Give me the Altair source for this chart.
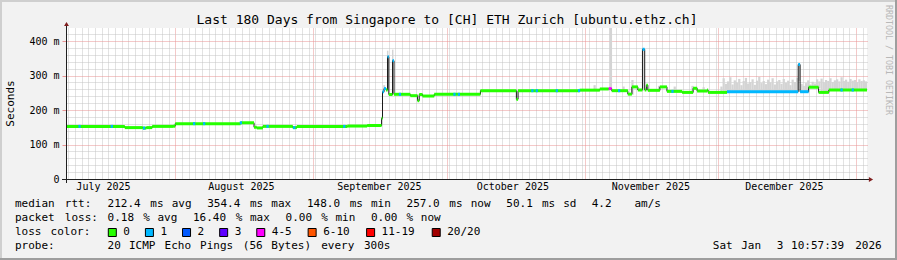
import re
import altair as alt
import numpy as np
import pandas as pd

# ---------------- data ----------------
START = pd.Timestamp("2025-07-07 10:57:39")
SPAN_DAYS = 180.0
TITLE = "Last 180 Days from Singapore to [CH] ETH Zurich [ubuntu.ethz.ch]"

median_time = [
    "2025-07-07 10:57", "2025-07-20 16:00", "2025-07-24 17:00", "2025-07-25 12:00",
    "2025-07-26 20:00", "2025-07-31 12:00", "2025-08-01 00:00", "2025-08-15 17:00",
    "2025-08-18 17:00", "2025-08-19 08:00", "2025-08-20 17:00", "2025-08-27 10:00",
    "2025-08-28 08:00", "2025-09-08 17:00", "2025-09-13 03:00", "2025-09-16 09:00",
    "2025-09-16 14:00", "2025-09-16 22:00", "2025-09-17 09:00", "2025-09-17 17:00",
    "2025-09-18 00:00", "2025-09-18 20:00", "2025-09-19 04:00", "2025-09-22 20:00",
    "2025-09-24 11:00", "2025-09-24 20:00", "2025-09-25 14:00", "2025-09-28 05:00",
    "2025-10-08 14:00", "2025-10-16 16:00", "2025-10-17 01:00", "2025-10-30 21:00",
    "2025-11-04 10:00", "2025-11-06 10:00", "2025-11-07 02:00", "2025-11-10 17:00",
    "2025-11-11 15:00", "2025-11-12 23:00", "2025-11-14 00:00", "2025-11-14 12:00",
    "2025-11-14 21:00", "2025-11-15 05:00", "2025-11-17 22:00", "2025-11-19 12:00",
    "2025-11-22 22:00", "2025-11-25 09:00", "2025-11-26 07:00", "2025-11-28 13:00",
    "2025-11-28 18:00", "2025-12-03 00:00", "2025-12-19 00:00", "2025-12-19 10:00",
    "2025-12-21 08:00", "2025-12-23 14:00", "2025-12-25 21:00",
]
median_ms = [
    152.5, 149.0, 147.5, 149.0, 152.5, 153.0, 160.5, 163.0, 150.0, 148.0,
    152.5, 149.0, 152.5, 153.5, 155.0, 176.0, 253.0, 262.0, 258.0, 354.4,
    245.0, 343.0, 245.5, 241.5, 227.0, 245.0, 240.5, 245.5, 256.0, 231.0,
    256.0, 257.5, 261.0, 262.0, 256.0, 246.0, 267.0, 258.0, 376.0, 258.0,
    272.0, 257.0, 267.0, 254.0, 251.0, 263.0, 255.0, 258.0, 251.0, 253.0,
    332.0, 253.0, 266.0, 251.0, 258.0,
]
median_loss = [
    "0", "0", "0", "0", "0", "0", "0", "0", "0", "0",
    "0", "0", "0", "0", "0", "0", "1", "1", "0", "1",
    "0", "1", "0", "0", "0", "0", "0", "0", "0", "0",
    "0", "0", "0", "4-5", "0", "0", "0", "0", "1", "0",
    "0", "0", "0", "0", "0", "0", "0", "0", "0", "1",
    "1", "1", "0", "0", "0",
]

# short loss specks on the median line
speck_time = [
    "2025-07-10 06:00", "2025-07-17 12:00", "2025-07-24 18:00", "2025-08-05 00:00",
    "2025-08-07 06:00", "2025-08-15 12:00", "2025-08-21 12:00", "2025-08-27 12:00",
    "2025-09-07 18:00", "2025-09-20 06:00", "2025-10-02 12:00", "2025-10-03 12:00",
    "2025-10-20 00:00", "2025-10-21 00:00", "2025-10-25 12:00", "2025-10-30 12:00",
    "2025-11-08 12:00", "2025-11-20 12:00", "2025-12-28 12:00", "2025-12-31 00:00",
]
speck_ms = [
    152.5, 152.5, 147.5, 160.5, 160.5, 163.0, 152.5, 149.0, 152.5, 245.5,
    245.5, 245.5, 256.0, 256.0, 256.0, 256.0, 256.0, 254.0, 258.0, 258.0,
]
speck_loss = ["1"] * len(speck_time)

# isolated smoke (ping spread) spots
smoke_start = [
    "2025-09-16 18:00", "2025-09-17 14:00", "2025-09-18 17:00", "2025-11-03 00:00",
    "2025-11-06 14:00", "2025-11-09 12:00", "2025-11-11 12:00", "2025-11-13 22:00",
    "2025-11-17 12:00", "2025-11-21 00:00", "2025-11-25 00:00", "2025-11-27 12:00",
]
smoke_end = [
    "2025-09-17 04:00", "2025-09-17 22:00", "2025-09-19 01:00", "2025-11-03 12:00",
    "2025-11-07 04:00", "2025-11-10 00:00", "2025-11-12 00:00", "2025-11-14 08:00",
    "2025-11-18 00:00", "2025-11-21 12:00", "2025-11-25 12:00", "2025-11-28 00:00",
]
smoke_hi = [272, 372, 375, 272, 440, 268, 287, 379, 270, 268, 270, 266]

# smoke band in December, half-day samples starting 2025-12-01 12:00
band_first = "2025-12-01 12:00"
band_hi = [
    268, 292, 276, 283, 295, 274, 286, 279, 290, 272, 284, 293, 277, 281, 289, 273,
    285, 296, 278, 284, 275, 288, 280, 292, 274, 283, 287, 276, 290, 279, 285, 272,
    288, 281, 293, 284, 276, 270, 278, 286, 274, 282, 277, 289, 283, 291, 280, 287,
    284, 292, 281, 286, 289, 283, 295, 284, 288, 282, 290, 285, 287, 281, 289, 284,
    286, 283,
]

month_starts = ["2025-08-01", "2025-09-01", "2025-10-01", "2025-11-01", "2025-12-01", "2026-01-01"]
month_label_text = ["July 2025", "August 2025", "September 2025", "October 2025",
                    "November 2025", "December 2025"]
month_label_time = ["2025-07-15 21:00", "2025-08-15 21:00", "2025-09-15 21:00",
                    "2025-10-15 21:00", "2025-11-15 21:00", "2025-12-15 21:00"]

y_ticks = list(range(0, 440, 20))

loss_labels = ["0", "1", "2", "3", "4-5", "6-10", "11-19", "20/20"]
loss_colors = ["#26ff00", "#00b8ff", "#0059ff", "#5e00ff", "#ff00ff", "#ff5500", "#ff0000", "#a10000"]

legend_line1 = "median rtt:  212.4 ms avg  354.4 ms max  148.0 ms min  257.0 ms now  50.1 ms sd  4.2   am/s"
legend_line2 = "packet loss: 0.18 % avg  16.40 % max  0.00 % min  0.00 % now"
legend_line3 = "loss color:"
legend_line4 = ("probe:       20 ICMP Echo Pings (56 Bytes) every 300s").ljust(98) + "Sat Jan  3 10:57:39 2026"

# ---------------- layout constants ----------------
W, H = 801, 151
LEFT, TOP = 66, 28
YMAX = 437.7
FONT = "DejaVu Sans Mono"
PITCH = 7.12


def days(t):
    return round((pd.Timestamp(t) - START).total_seconds() / 86400.0, 6)


md = pd.DataFrame({"t": median_time, "ms": median_ms, "loss": median_loss})
md["d"] = md["t"].map(days)
md["d2"] = md["d"].shift(-1).fillna(SPAN_DAYS)
line_df = pd.concat([md[["d", "ms"]], pd.DataFrame({"d": [SPAN_DAYS], "ms": [median_ms[-1]]})],
                    ignore_index=True)


def median_at(d):
    i = int(np.searchsorted(md["d"].values, d, side="right")) - 1
    return md["ms"].values[max(i, 0)]


sp = pd.DataFrame({"t": speck_time, "ms": speck_ms, "loss": speck_loss})
sp["d"] = sp["t"].map(days)
sp["d2"] = sp["d"] + 0.5

sm1 = pd.DataFrame({"d": [days(t) for t in smoke_start], "d2": [days(t) for t in smoke_end],
                    "hi": smoke_hi})
band_t = pd.date_range(band_first, periods=len(band_hi), freq="12h")
sm2 = pd.DataFrame({"d": [days(t) for t in band_t], "hi": band_hi})
sm2["d2"] = (sm2["d"] + 0.5).clip(upper=SPAN_DAYS)
smoke = pd.concat([sm1, sm2], ignore_index=True)
smoke["lo"] = [median_at(d) - 2 for d in smoke["d"]]

major_d = [days(m) for m in month_starts]
base = pd.Timestamp("2025-08-01")
minor_d = []
for k in range(-20, 110):
    dd = days(base + pd.Timedelta(hours=36 * k))
    if 0 < dd < SPAN_DAYS and dd not in major_d:
        minor_d.append(dd)
x_vals = sorted(minor_d + major_d)
major_test = "indexof([" + ",".join(repr(v) for v in major_d) + "], datum.value) >= 0"

months = pd.DataFrame({"txt": month_label_text, "d": [days(t) for t in month_label_time]})

# legend text words placed on the monospace character grid
rows = []
for line, yabs in [(legend_line1, 204.3), (legend_line2, 218.3), (legend_line3, 232.0), (legend_line4, 246.0)]:
    for m in re.finditer(r"\S+", line):
        rows.append({"txt": m.group(0), "px": 15.0 + m.start() * PITCH - LEFT, "py": yabs - TOP})
box_x = []
bx = 108.3
for lab in loss_labels:
    box_x.append(bx)
    rows.append({"txt": lab, "px": bx + 15.0 - LEFT, "py": 232.0 - TOP})
    bx = bx + 15.0 + len(lab) * PITCH + 15.0
texts = pd.DataFrame(rows)
boxes = pd.DataFrame({"lab": loss_labels, "col": loss_colors,
                      "bx": [b - LEFT for b in box_x], "bx2": [b + 8 - LEFT for b in box_x]})

# ---------------- chart ----------------
x_scale = alt.Scale(domain=[0, SPAN_DAYS], nice=False, zero=False)
y_scale = alt.Scale(domain=[0, YMAX], nice=False, zero=True)
color_scale = alt.Scale(domain=loss_labels, range=loss_colors)

GRID_MINOR = "#c4c4c4"
GRID_MAJOR = "#e99393"

x_axis = alt.Axis(values=x_vals, grid=True, gridDash=[1, 1], gridWidth=1,
                  gridColor={"condition": {"test": major_test, "value": GRID_MAJOR}, "value": GRID_MINOR},
                  labels=False, ticks=False, domain=False, title=None)
y_axis = alt.Axis(values=y_ticks, grid=True, gridDash=[1, 1], gridWidth=1,
                  gridColor={"condition": {"test": "datum.value % 100 === 0", "value": GRID_MAJOR},
                             "value": GRID_MINOR},
                  ticks=True, tickSize=4,
                  tickColor={"condition": {"test": "datum.value % 100 === 0", "value": GRID_MAJOR},
                             "value": "transparent"},
                  labelExpr="datum.value % 100 === 0 ? (datum.value === 0 ? '0\u00a0\u00a0' : datum.value + ' m') : ''",
                  labelFont=FONT, labelFontSize=10, labelColor="#000000", labelPadding=3,
                  labelOverlap=False, labelFlush=False, labelBound=False,
                  domain=False, title=None)

XE = dict(scale=x_scale, axis=x_axis)
YE = dict(scale=y_scale, axis=y_axis)

one = alt.Data(values=[{"k": 0}])

smoke_layer = alt.Chart(smoke).mark_rect(color="#d4d4d4", clip=True).encode(
    x=alt.X("d:Q", **XE),
    x2="d2:Q",
    y=alt.Y("lo:Q", **YE),
    y2="hi:Q",
)

median_line = alt.Chart(line_df).mark_line(color="#1a1a1a", strokeWidth=1, interpolate="step-after",
                                           clip=True).encode(
    x=alt.X("d:Q", **XE),
    y=alt.Y("ms:Q", **YE),
)

median_bars = alt.Chart(md).mark_rule(strokeWidth=3, strokeCap="butt", clip=True).encode(
    x=alt.X("d:Q", **XE),
    x2="d2:Q",
    y=alt.Y("ms:Q", **YE),
    color=alt.Color("loss:N", scale=color_scale, legend=None),
)

speck_bars = alt.Chart(sp).mark_rule(strokeWidth=3, strokeCap="butt", clip=True).encode(
    x=alt.X("d:Q", **XE),
    x2="d2:Q",
    y=alt.Y("ms:Q", **YE),
    color=alt.Color("loss:N", scale=color_scale, legend=None),
)

month_layer = alt.Chart(months).mark_text(font=FONT, fontSize=10, color="#000000",
                                          align="center", baseline="middle").encode(
    x=alt.X("d:Q", **XE),
    y=alt.value(187.3 - TOP),
    text="txt:N",
)

legend_text = alt.Chart(texts).mark_text(font=FONT, fontSize=11, color="#000000",
                                         align="left", baseline="middle").encode(
    x=alt.X("px:Q", scale=None, axis=None),
    y=alt.Y("py:Q", scale=None, axis=None),
    text="txt:N",
)

legend_boxes = alt.Chart(boxes).mark_rect(stroke="#000000", strokeWidth=1).encode(
    x=alt.X("bx:Q", scale=None, axis=None),
    x2="bx2:Q",
    y=alt.value(228.5 - TOP),
    y2=alt.value(236.5 - TOP),
    fill=alt.Color("col:N", scale=None, legend=None),
)

title_layer = alt.Chart(one).mark_text(text=TITLE, font=FONT, fontSize=13, color="#000000",
                                       align="center", baseline="middle").encode(
    x=alt.value(447 - LEFT), y=alt.value(19.5 - TOP))

ylabel_layer = alt.Chart(one).mark_text(text="Seconds", font=FONT, fontSize=11, color="#000000",
                                        align="center", baseline="middle", angle=270).encode(
    x=alt.value(11 - LEFT), y=alt.value(103.5 - TOP))

watermark = alt.Chart(one).mark_text(text="RRDTOOL / TOBI OETIKER", font=FONT, fontSize=8.3,
                                     color="#b8b8b8", align="center", baseline="middle",
                                     angle=90).encode(
    x=alt.value(887.5 - LEFT), y=alt.value(60 - TOP))

AXIS_COL = "#1f1f1f"
ARROW_COL = "#801f1f"
yaxis_line = alt.Chart(one).mark_rule(color=AXIS_COL, strokeWidth=1).encode(
    x=alt.value(0.5), y=alt.value(-5), y2=alt.value(H + 4))
xaxis_line = alt.Chart(one).mark_rule(color=AXIS_COL, strokeWidth=1).encode(
    x=alt.value(-4), x2=alt.value(W + 2), y=alt.value(H + 0.5))
y_arrow = alt.Chart(one).mark_point(shape="triangle-up", filled=True, size=24, color=ARROW_COL,
                                    opacity=1).encode(x=alt.value(0.5), y=alt.value(-4))
x_arrow = alt.Chart(one).mark_point(shape="triangle-right", filled=True, size=24, color=ARROW_COL,
                                    opacity=1).encode(x=alt.value(W + 4), y=alt.value(H + 0.5))

SHADE_A = "#cfcfcf"
SHADE_B = "#9e9e9e"
b_top = alt.Chart(one).mark_rule(color=SHADE_A, strokeWidth=2).encode(
    x=alt.value(-LEFT), x2=alt.value(897 - LEFT), y=alt.value(1 - TOP))
b_left = alt.Chart(one).mark_rule(color=SHADE_A, strokeWidth=2).encode(
    x=alt.value(1 - LEFT), y=alt.value(-TOP), y2=alt.value(260 - TOP))
b_bottom = alt.Chart(one).mark_rule(color=SHADE_B, strokeWidth=2).encode(
    x=alt.value(-LEFT), x2=alt.value(897 - LEFT), y=alt.value(259 - TOP))
b_right = alt.Chart(one).mark_rule(color=SHADE_B, strokeWidth=2).encode(
    x=alt.value(896 - LEFT), y=alt.value(-TOP), y2=alt.value(260 - TOP))

chart = alt.layer(
    smoke_layer, median_line, median_bars, speck_bars,
    yaxis_line, xaxis_line, y_arrow, x_arrow,
    month_layer, legend_text, legend_boxes, title_layer, ylabel_layer, watermark,
    b_top, b_left, b_bottom, b_right,
).properties(
    width=W, height=H,
    padding={"left": LEFT, "top": TOP, "right": 897 - LEFT - W, "bottom": 260 - TOP - H},
    autosize=alt.AutoSizeParams(type="none"),
    background="#f2f2f2",
).configure_view(fill="white", strokeWidth=0)

chart.save("out.html", embed_options={"renderer": "svg", "actions": False})
